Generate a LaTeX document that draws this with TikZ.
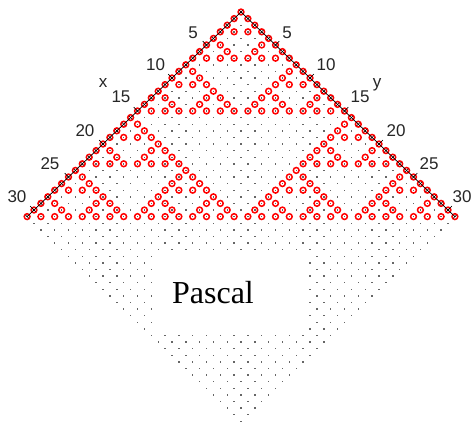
\documentclass[tikz,border=0pt]{standalone}
\usepackage{fontspec}
\setmainfont{Liberation Serif}
\newfontfamily\axisfont{Liberation Sans}
\begin{document}
\begin{tikzpicture}[x=1pt,y=-1pt,
  latticedot/.style={fill=black!60},
  ring/.style={draw=red,line width=1.5pt},
  axisline/.style={draw=black,line width=0.7pt},
  axistick/.style={draw=black,line width=0.6pt},
  lbl/.style={font=\axisfont\fontsize{17}{17}\selectfont,inner sep=0pt,text=black!85}]
\useasboundingbox (0,0) rectangle (473,423);
\def\ax{241}\def\ay{12}\def\dx{6.9}\def\dy{6.6}
% lattice of points (i,j), 0 <= i,j <= 31
\foreach \i in {0,...,31}{\foreach \j in {0,...,31}{
  \fill[latticedot] ({\ax+\dx*(\j-\i)-0.7},{\ay+\dy*(\i+\j)-0.7}) rectangle ++(1.4,1.4);}}
% odd binomial coefficients C(i+j,i), rows 0..31
\foreach \i in {0,...,31}{
  \pgfmathtruncatemacro\jmax{31-\i}
  \foreach \j in {0,...,\jmax}{
    \pgfmathtruncatemacro\odd{(1-mod(\i,2)*mod(\j,2))*(1-mod(floor(\i/2),2)*mod(floor(\j/2),2))*(1-mod(floor(\i/4),2)*mod(floor(\j/4),2))*(1-mod(floor(\i/8),2)*mod(floor(\j/8),2))*(1-mod(floor(\i/16),2)*mod(floor(\j/16),2))}
    \ifnum\odd=1
      \draw[ring] ({\ax+\dx*(\j-\i)},{\ay+\dy*(\i+\j)}) circle[radius=2.9pt];
    \fi}}
% axes
\coordinate (apex) at (\ax,\ay);
\coordinate (xend) at ({\ax-31*\dx},{\ay+31*\dy});
\coordinate (yend) at ({\ax+31*\dx},{\ay+31*\dy});
\draw[axisline] (apex) -- (xend);
\draw[axisline] (apex) -- (yend);
\foreach \k in {0,...,31}{
  \draw[axistick] ({\ax-\dx*\k-1.7},{\ay+\dy*\k-1.7}) -- ++(3.4,3.4);
  \draw[axistick] ({\ax+\dx*\k+1.7},{\ay+\dy*\k-1.7}) -- ++(-3.4,3.4);}
\foreach \k in {5,10,...,30}{
  \draw[axistick] ({\ax-\dx*\k},{\ay+\dy*\k}) -- ++(-3.8,-3.9);
  \draw[axistick] ({\ax+\dx*\k},{\ay+\dy*\k}) -- ++(3.8,-3.9);}
% axis labels
\node[lbl] (l5)  at (193,33) {5};
\node[lbl] (l10) at (155.5,65) {10};
\node[lbl] (l15) at (121,97) {15};
\node[lbl] (l20) at (85,131) {20};
\node[lbl] (l25) at (50,164) {25};
\node[lbl] (l30) at (17,197) {30};
\node[lbl] (r5)  at (287,33) {5};
\node[lbl] (r10) at (326,65) {10};
\node[lbl] (r15) at (360,97) {15};
\node[lbl] (r20) at (396,131) {20};
\node[lbl] (r25) at (429,164) {25};
\node[lbl] (r30) at (462,197) {30};
\node[lbl] (xl) at (103,83) {x};
\node[lbl] (yl) at (377,85) {y};
% title panel
\fill[white] (152,253) rectangle (308,332);
\node[font=\fontsize{32}{32}\selectfont,inner sep=0pt,anchor=base] (title) at (213,303) {Pascal};
\end{tikzpicture}
\end{document}
